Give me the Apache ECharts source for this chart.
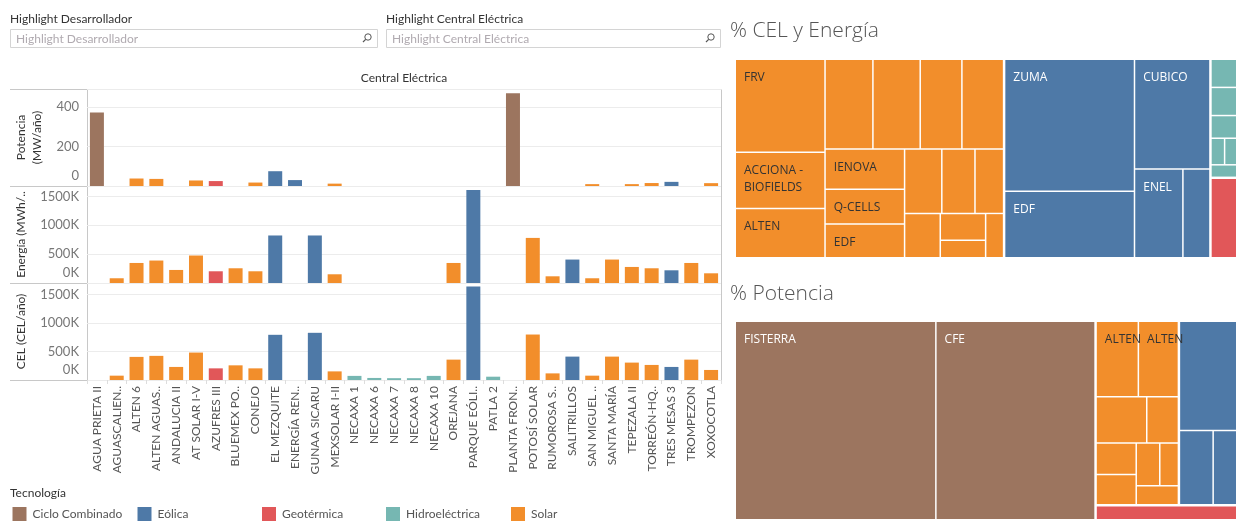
<!DOCTYPE html>
<html>
<head>
    <meta charset="utf-8">
    <title>CEL, Energía y Potencia por Central Eléctrica</title>
    <script src="https://cdn.jsdelivr.net/npm/echarts@6/dist/echarts.min.js"></script>
    <style>
        html, body { margin: 0; padding: 0; background: #fff; }
        #chart { width: 1238px; height: 523px; }
    </style>
</head>
<body>
    <div id="chart"></div>
    <script>
        // Centrales eléctricas (eje x) y su tecnología
        const centrales = ['AGUA PRIETA II', 'AGUASCALIEN..', 'ALTEN 6', 'ALTEN AGUAS..', 'ANDALUCIA II',
            'AT SOLAR I-V', 'AZUFRES III', 'BLUEMEX PO..', 'CONEJO', 'EL MEZQUITE', 'ENERGÍA REN..',
            'GUNAA SICARU', 'MEXSOLAR I-II', 'NECAXA 1', 'NECAXA 6', 'NECAXA 7', 'NECAXA 8', 'NECAXA 10',
            'OREJANA', 'PARQUE EÓLI..', 'PATLA 2', 'PLANTA FRON..', 'POTOSÍ SOLAR', 'RUMOROSA S..',
            'SALITRILLOS', 'SAN MIGUEL ..', 'SANTA MARÍA', 'TEPEZALA II', 'TORREÓN-HQ..', 'TRES MESAS 3',
            'TROMPEZON', 'XOXOCOTLA'];
        const tecnologia = ['Ciclo Combinado', 'Solar', 'Solar', 'Solar', 'Solar',
            'Solar', 'Geotérmica', 'Solar', 'Solar', 'Eólica', 'Eólica',
            'Eólica', 'Solar', 'Hidroeléctrica', 'Hidroeléctrica', 'Hidroeléctrica', 'Hidroeléctrica', 'Hidroeléctrica',
            'Solar', 'Eólica', 'Hidroeléctrica', 'Ciclo Combinado', 'Solar', 'Solar',
            'Eólica', 'Solar', 'Solar', 'Solar', 'Solar', 'Eólica',
            'Solar', 'Solar'];

        // Potencia (MW/año)
        const potencia = [373, null, 38, 36, null,
            28, 25, null, 17.5, 75, 30,
            null, 12, null, null, null, null, null,
            null, null, null, 470, null, null,
            null, 9.5, null, 9.5, 15, 21,
            null, 14.5];
        // Energía (miles de MWh/año)
        const energia = [null, 82, 347, 389, 226,
            476, 203, 255, 203, 823, null,
            823, 151, null, null, null, null, null,
            347, 1609, null, null, 781, 116,
            406, 82, 406, 278, 255, 220,
            347, 168];
        // CEL (miles de CEL/año)
        const cel = [null, 76, 405, 423, 229,
            481, 204, 257, 204, 792, null,
            827, 151, 72, 36, 32, 32, 72,
            357, 1637, 58, null, 797, 116,
            410, 76, 410, 305, 264, 229,
            357, 176];

        // Desarrollador que se rotula en cada treemap ('' = sin etiqueta)
        const etiquetaCel = ['', '', '', 'ALTEN', '',
            'ACCIONA - BIOFIELDS', '', 'EDF', '', 'CUBICO', '',
            'EDF', '', '', '', '', '', '',
            '', 'ZUMA', '', '', 'FRV', '',
            'ENEL', '', '', 'IENOVA', 'Q-CELLS', '',
            '', ''];
        const etiquetaPot = ['CFE', '', 'ALTEN', 'ALTEN', '',
            '', '', '', '', '', '',
            '', '', '', '', '', '', '',
            '', '', '', 'FISTERRA', '', '',
            '', '', '', '', '', '',
            '', ''];

        const tecnologias = ['Ciclo Combinado', 'Eólica', 'Geotérmica', 'Hidroeléctrica', 'Solar'];
        const colores = ['#9c755f', '#4e79a7', '#e15759', '#76b7b2', '#f28e2b'];

        const chartDom = document.getElementById('chart');
        const myChart = echarts.init(chartDom);

        const colorDe = t => colores[tecnologias.indexOf(t)];

        // árbol tecnología -> central para los treemaps
        function arbol(valores, etiquetas) {
            return tecnologias.map(t => ({
                name: t,
                itemStyle: { color: colorDe(t) },
                children: centrales
                    .map((c, i) => ({
                        name: c,
                        value: valores[i],
                        etiqueta: etiquetas[i],
                        tec: tecnologia[i],
                        label: { color: tecnologia[i] === 'Solar' ? '#333' : '#fff' }
                    }))
                    .filter(d => d.tec === t && d.value != null)
            })).filter(n => n.children.length);
        }

        function treemap(top, datos) {
            return {
                type: 'treemap',
                left: 736, top: top, width: 500, height: 197,
                roam: false, nodeClick: false, silent: true,
                breadcrumb: { show: false },
                label: {
                    show: true, position: [8, 9], padding: 0, distance: 0,
                    fontSize: 12, fontFamily: 'Open Sans', lineHeight: 17,
                    overflow: 'break',
                    formatter: p => p.data.etiqueta || ''
                },
                upperLabel: { show: false },
                itemStyle: { borderWidth: 0, gapWidth: 1, borderColor: '#fff' },
                levels: [
                    { itemStyle: { gapWidth: 2.5, borderWidth: 0, borderColor: '#fff' } },
                    { itemStyle: { gapWidth: 1.5, borderWidth: 0, borderColor: '#fff' } },
                    { itemStyle: { borderWidth: 0 } }
                ],
                data: datos
            };
        }

        const panes = [89, 186, 283];
        const altoPane = 97;

        function ejeY(idx, nombre, max, intervalo, sufijo, gap, extra) {
            return Object.assign({
                type: 'value', gridIndex: idx, min: 0, max: max, interval: intervalo,
                name: nombre, nameLocation: 'middle', nameGap: gap, nameRotate: 90,
                nameTextStyle: { color: '#333', fontSize: 12, fontFamily: 'Lato', lineHeight: 16 },
                axisLine: { show: false }, axisTick: { show: false },
                axisLabel: {
                    showMaxLabel: false, color: '#777', fontSize: 13, fontFamily: 'Lato', margin: 8,
                    formatter: v => v === 0 ? '{z|0' + sufijo + '}' : v + sufijo,
                    rich: { z: { color: '#777', fontSize: 13, fontFamily: 'Lato', padding: [0, 0, 20, 0] } }
                },
                splitLine: { lineStyle: { color: '#ececec' } }
            }, extra || {});
        }

        function ejeX(idx) {
            const ultimo = idx === 2;
            return {
                type: 'category', gridIndex: idx, data: centrales,
                axisLine: { show: false },
                axisTick: { show: ultimo, length: 4, lineStyle: { color: '#dddddd' } },
                axisLabel: {
                    show: ultimo, interval: 0, rotate: 90, margin: 6,
                    color: '#555', fontSize: 12, fontFamily: 'Lato'
                }
            };
        }

        function barras(idx, valores) {
            return {
                type: 'bar', xAxisIndex: idx, yAxisIndex: idx, data: valores,
                barWidth: 14, silent: true,
                itemStyle: { color: p => colorDe(tecnologia[p.dataIndex]) }
            };
        }

        const gris = '#c8c8c8';
        const linea = (x1, y1, x2, y2) => ({
            type: 'line', shape: { x1, y1, x2, y2 }, silent: true,
            style: { stroke: gris, lineWidth: 1 }
        });
        const texto = (x, y, t, extra) => ({
            type: 'text', x, y, silent: true,
            style: Object.assign({ text: t, fill: '#333', font: '12px Lato', verticalAlign: 'middle' }, extra || {})
        });
        const lupa = (cx, cy) => ([
            { type: 'circle', shape: { cx, cy, r: 3.2 }, silent: true, style: { fill: 'none', stroke: '#555', lineWidth: 1 } },
            { type: 'line', shape: { x1: cx - 2.3, y1: cy + 2.3, x2: cx - 5, y2: cy + 5 }, silent: true, style: { stroke: '#555', lineWidth: 1.2 } }
        ]);
        const cajaFiltro = (x, w, titulo) => ([
            texto(x, 19, titulo, { font: '12px Lato', fill: '#333' }),
            { type: 'rect', shape: { x: x + 0.5, y: 29.5, width: w, height: 18 }, silent: true, style: { fill: '#fff', stroke: '#d4d4d4', lineWidth: 1 } },
            texto(x + 6, 39, titulo, { font: '12px Lato', fill: '#b0aab0' })
        ].concat(lupa(x + w - 9, 37)));

        const leyendaX = [12.5, 137.5, 262, 386, 511];
        const leyenda = [texto(10, 493, 'Tecnología', { font: '12px Lato', fill: '#333' })];
        tecnologias.forEach((t, k) => {
            leyenda.push({ type: 'rect', shape: { x: leyendaX[k], y: 507, width: 14, height: 14 }, silent: true, style: { fill: colores[k] } });
            leyenda.push(texto(leyendaX[k] + 20, 514.5, t, { font: '12px Lato', fill: '#555' }));
        });

        const option = {
            animation: false,
            grid: panes.map(t => ({ left: 87, top: t, width: 634, height: altoPane, outerBoundsMode: 'none' })),
            xAxis: [ejeX(0), ejeX(1), ejeX(2)],
            yAxis: [
                ejeY(0, 'Potencia\n(MW/año)', 492, 200, '', 37),
                ejeY(1, 'Energía (MWh/año)', 1680, 500, 'K', 55, { nameTruncate: { maxWidth: 96, ellipsis: '..' } }),
                ejeY(2, 'CEL (CEL/año)', 1700, 500, 'K', 55)
            ],
            series: [
                barras(0, potencia),
                barras(1, energia),
                barras(2, cel),
                treemap(60, arbol(cel, etiquetaCel)),
                treemap(322, arbol(potencia, etiquetaPot))
            ],
            graphic: [
                ...cajaFiltro(10, 367, 'Highlight Desarrollador'),
                ...cajaFiltro(386, 334, 'Highlight Central Eléctrica'),
                texto(404, 78, 'Central Eléctrica', { align: 'center', font: '12px Lato', fill: '#333' }),
                linea(10, 89.5, 721, 89.5),
                linea(10, 186.5, 721, 186.5),
                linea(10, 283.5, 721, 283.5),
                linea(10, 380.5, 721, 380.5),
                linea(87.5, 89.5, 87.5, 380.5),
                linea(721.5, 89.5, 721.5, 380.5),
                texto(730, 31, '% CEL y Energía', { font: '300 21px "Open Sans"', fill: '#555' }),
                texto(730, 294, '% Potencia', { font: '300 21px "Open Sans"', fill: '#555' }),
                ...leyenda
            ]
        };

        option && myChart.setOption(option);

        window.addEventListener('resize', function () {
            myChart.resize();
        });
    </script>
</body>
</html>
